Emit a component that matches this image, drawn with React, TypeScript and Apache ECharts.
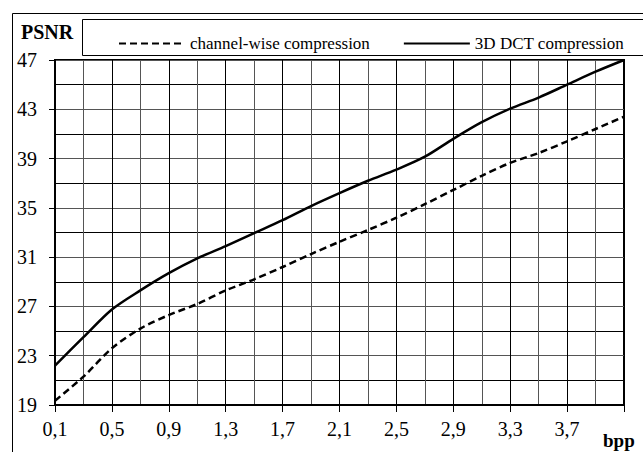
import React, { useEffect, useRef } from "react";
import * as echarts from "echarts";

// bpp values (x) and PSNR values (y)
const bpp = [0.1, 0.3, 0.5, 0.7, 0.9, 1.1, 1.3, 1.5, 1.7, 1.9, 2.1, 2.3, 2.5, 2.7, 2.9, 3.1, 3.3, 3.5, 3.7, 3.9, 4.1];
const channelWise = [19.35, 21.3, 23.6, 25.2, 26.3, 27.2, 28.3, 29.2, 30.2, 31.25, 32.25, 33.2, 34.2, 35.3, 36.45, 37.6, 38.65, 39.45, 40.4, 41.4, 42.4];
const dct3d = [22.2, 24.5, 26.75, 28.3, 29.7, 30.9, 31.9, 32.95, 34.0, 35.15, 36.2, 37.2, 38.1, 39.15, 40.6, 41.95, 43.05, 43.95, 45.0, 46.05, 47.0];
const seriesNames = ["channel-wise compression", "3D DCT compression"];

// axis ranges (the axes are offset so that ticks start at a multiple of the interval)
const X_MIN = 0.1;
const X_MAX = 4.1;
const X_STEP = 0.4;
const Y_MIN = 19;
const Y_MAX = 47;
const Y_STEP = 4;

const FONT = "Liberation Serif";

export default function App() {
  const ref = useRef<HTMLDivElement>(null);

  useEffect(() => {
    if (!ref.current) return;
    const chart = echarts.init(ref.current, undefined, { renderer: "svg" });
    const toData = (ys: number[]) => ys.map((y, i) => [+(bpp[i] - X_MIN).toFixed(4), +(y - Y_MIN).toFixed(4)]);

    chart.setOption({
      animation: false,
      backgroundColor: "#fff",
      grid: {
        left: 55,
        top: 60,
        width: 569,
        height: 345,
        show: true,
        borderColor: "#000",
        borderWidth: 2,
        backgroundColor: "transparent",
      },
      legend: {
        left: 113,
        top: 30,
        itemWidth: 66,
        itemHeight: 14,
        itemGap: 33,
        data: seriesNames,
        itemStyle: { color: "transparent", borderColor: "transparent", borderWidth: 0, opacity: 0 },
        textStyle: { fontFamily: FONT, fontSize: 17, color: "#000" },
      },
      xAxis: {
        type: "value",
        min: 0,
        max: X_MAX - X_MIN,
        interval: X_STEP,
        axisLine: { show: true, lineStyle: { color: "#000", width: 2 } },
        axisTick: { show: true, length: 7, lineStyle: { color: "#000", width: 1 } },
        axisLabel: {
          margin: 14,
          fontFamily: FONT,
          fontSize: 20,
          color: "#000",
          formatter: (v: number) => {
            const val = v + X_MIN;
            if (Math.abs(val - X_MAX) < 1e-6) return "";
            return val.toFixed(1).replace(".", ",");
          },
        },
        splitLine: { show: true, lineStyle: { color: "#000", width: 1 } },
        minorTick: { show: false, splitNumber: 2 },
        minorSplitLine: { show: true, lineStyle: { color: "#555", width: 1 } },
      },
      yAxis: {
        type: "value",
        min: 0,
        max: Y_MAX - Y_MIN,
        interval: Y_STEP,
        axisLine: { show: true, lineStyle: { color: "#000", width: 2 } },
        axisTick: { show: true, length: 6, lineStyle: { color: "#000", width: 1 } },
        axisLabel: {
          margin: 18,
          fontFamily: FONT,
          fontSize: 20,
          color: "#000",
          formatter: (v: number) => String(Math.round(v + Y_MIN)),
        },
        splitLine: { show: true, lineStyle: { color: "#555", width: 1 } },
        minorTick: { show: false, splitNumber: 2 },
        minorSplitLine: { show: true, lineStyle: { color: "#000", width: 1 } },
      },
      graphic: [
        {
          type: "rect",
          shape: { x: 12.5, y: 13.5, width: 700, height: 500 },
          style: { fill: "none", stroke: "#000", lineWidth: 1 },
          silent: true,
          z: -1,
        },
        {
          type: "rect",
          shape: { x: 82.5, y: 19.5, width: 700, height: 36 },
          style: { fill: "#fff", stroke: "#000", lineWidth: 1 },
          silent: true,
          z: -1,
        },
        {
          type: "text",
          x: 21,
          y: 32,
          style: {
            text: "PSNR",
            fontFamily: FONT,
            fontSize: 20,
            fontWeight: "bold",
            fill: "#000",
            verticalAlign: "middle",
          },
        },
        {
          type: "text",
          x: 603,
          y: 440,
          style: {
            text: "bpp",
            fontFamily: FONT,
            fontSize: 19,
            fontWeight: "bold",
            fill: "#000",
            verticalAlign: "middle",
          },
        },
      ],
      series: [
        {
          name: seriesNames[0],
          type: "line",
          data: toData(channelWise),
          symbol: "none",
          smooth: 0.3,
          lineStyle: { color: "#000", width: 2.5, type: [7, 4] },
          itemStyle: { color: "#000" },
          z: 3,
        },
        {
          name: seriesNames[1],
          type: "line",
          data: toData(dct3d),
          symbol: "none",
          smooth: 0.3,
          lineStyle: { color: "#000", width: 2.5, type: "solid" },
          itemStyle: { color: "#000" },
          z: 3,
        },
      ],
    });

    return () => chart.dispose();
  }, []);

  return (
    <div
      ref={ref}
      style={{ position: "fixed", left: 0, top: 0, width: 643, height: 452 }}
    />
  );
}
